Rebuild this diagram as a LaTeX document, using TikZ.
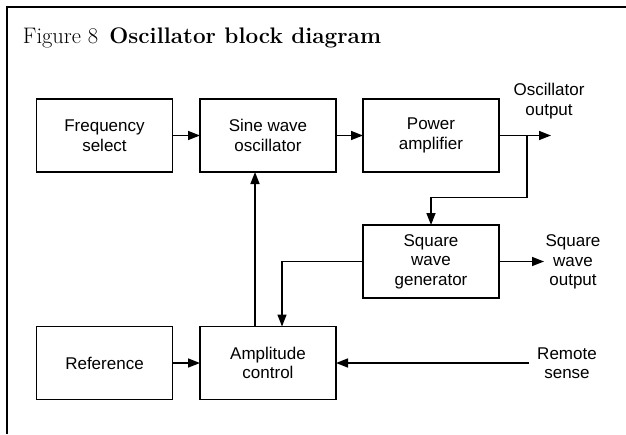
\documentclass[tikz,border=0pt]{standalone}
\usepackage{fontspec}
\setsansfont{Liberation Sans}
\usepackage{tikz}
\usetikzlibrary{arrows.meta,calc,positioning}
\tikzset{
  every node/.style = {outer sep=0, inner sep=0},
  arrow/.style = {-{Triangle[length=12pt,width=9pt]}, line width=1.5pt},
  line/.style = {line width=1.5pt},
  block/.style = {rectangle, draw, line width=1.6pt, minimum height=73pt, minimum width=136pt,
    align=center, font=\sffamily\fontsize{17}{19.5}\selectfont},
  lbl/.style = {align=center, font=\sffamily\fontsize{17}{19.5}\selectfont}
}

\begin{document}
\begin{tikzpicture}[x=1pt, y=1pt]
    \useasboundingbox (0,0) rectangle (626,-434);
    % frame and title
    \draw[line width=2.2pt] (7,-434) -- (7,-7) -- (626,-7);
    \node[anchor=base west, font=\fontsize{22.5}{26}\selectfont] (title) at (23,-43)
      {Figure~8\enspace\textbf{Oscillator block diagram}};

    % blocks
    \node[block] (freq) at (104.5,-135.5) {Frequency\\select};
    \node[block] (sine) at (268,-135.5) {Sine wave\\oscillator};
    \node[block] (power) at (431,-135.5) {Power\\amplifier};
    \node[block] (square) at (431,-261.5) {Square\\wave\\generator};
    \node[block] (ref) at (104.5,-363) {Reference};
    \node[block] (amp) at (268,-363) {Amplitude\\control};

    % outside labels
    \node[lbl] (oscoutlbl) at (549,-101) {Oscillator\\output};
    \node[lbl] (sqoutlbl) at (573,-262) {Square\\wave\\output};
    \node[lbl] (remotelbl) at (567,-363) {Remote\\sense};
    \coordinate (oscout) at (551,-135.5);
    \coordinate (tap) at (527,-135.5);
    \coordinate (sqout) at (544,-261.5);
    \coordinate (remote) at (529,-363);

    % connections
    \draw[arrow] (freq) -- (sine);
    \draw[arrow] (sine) -- (power);
    \draw[arrow] (power) -- (oscout);
    \draw[arrow] (tap) -- ++(0,-62) -| (square.north);
    \draw[arrow] (square.east) -- (sqout);
    \draw[arrow] (square.west) -| ([xshift=14pt]amp.north);
    \draw[arrow] ([xshift=-13pt]amp.north) -- ([xshift=-13pt]sine.south);
    \draw[arrow] (ref) -- (amp);
    \draw[arrow] (remote) -- (amp.east);
\end{tikzpicture}
\end{document}
